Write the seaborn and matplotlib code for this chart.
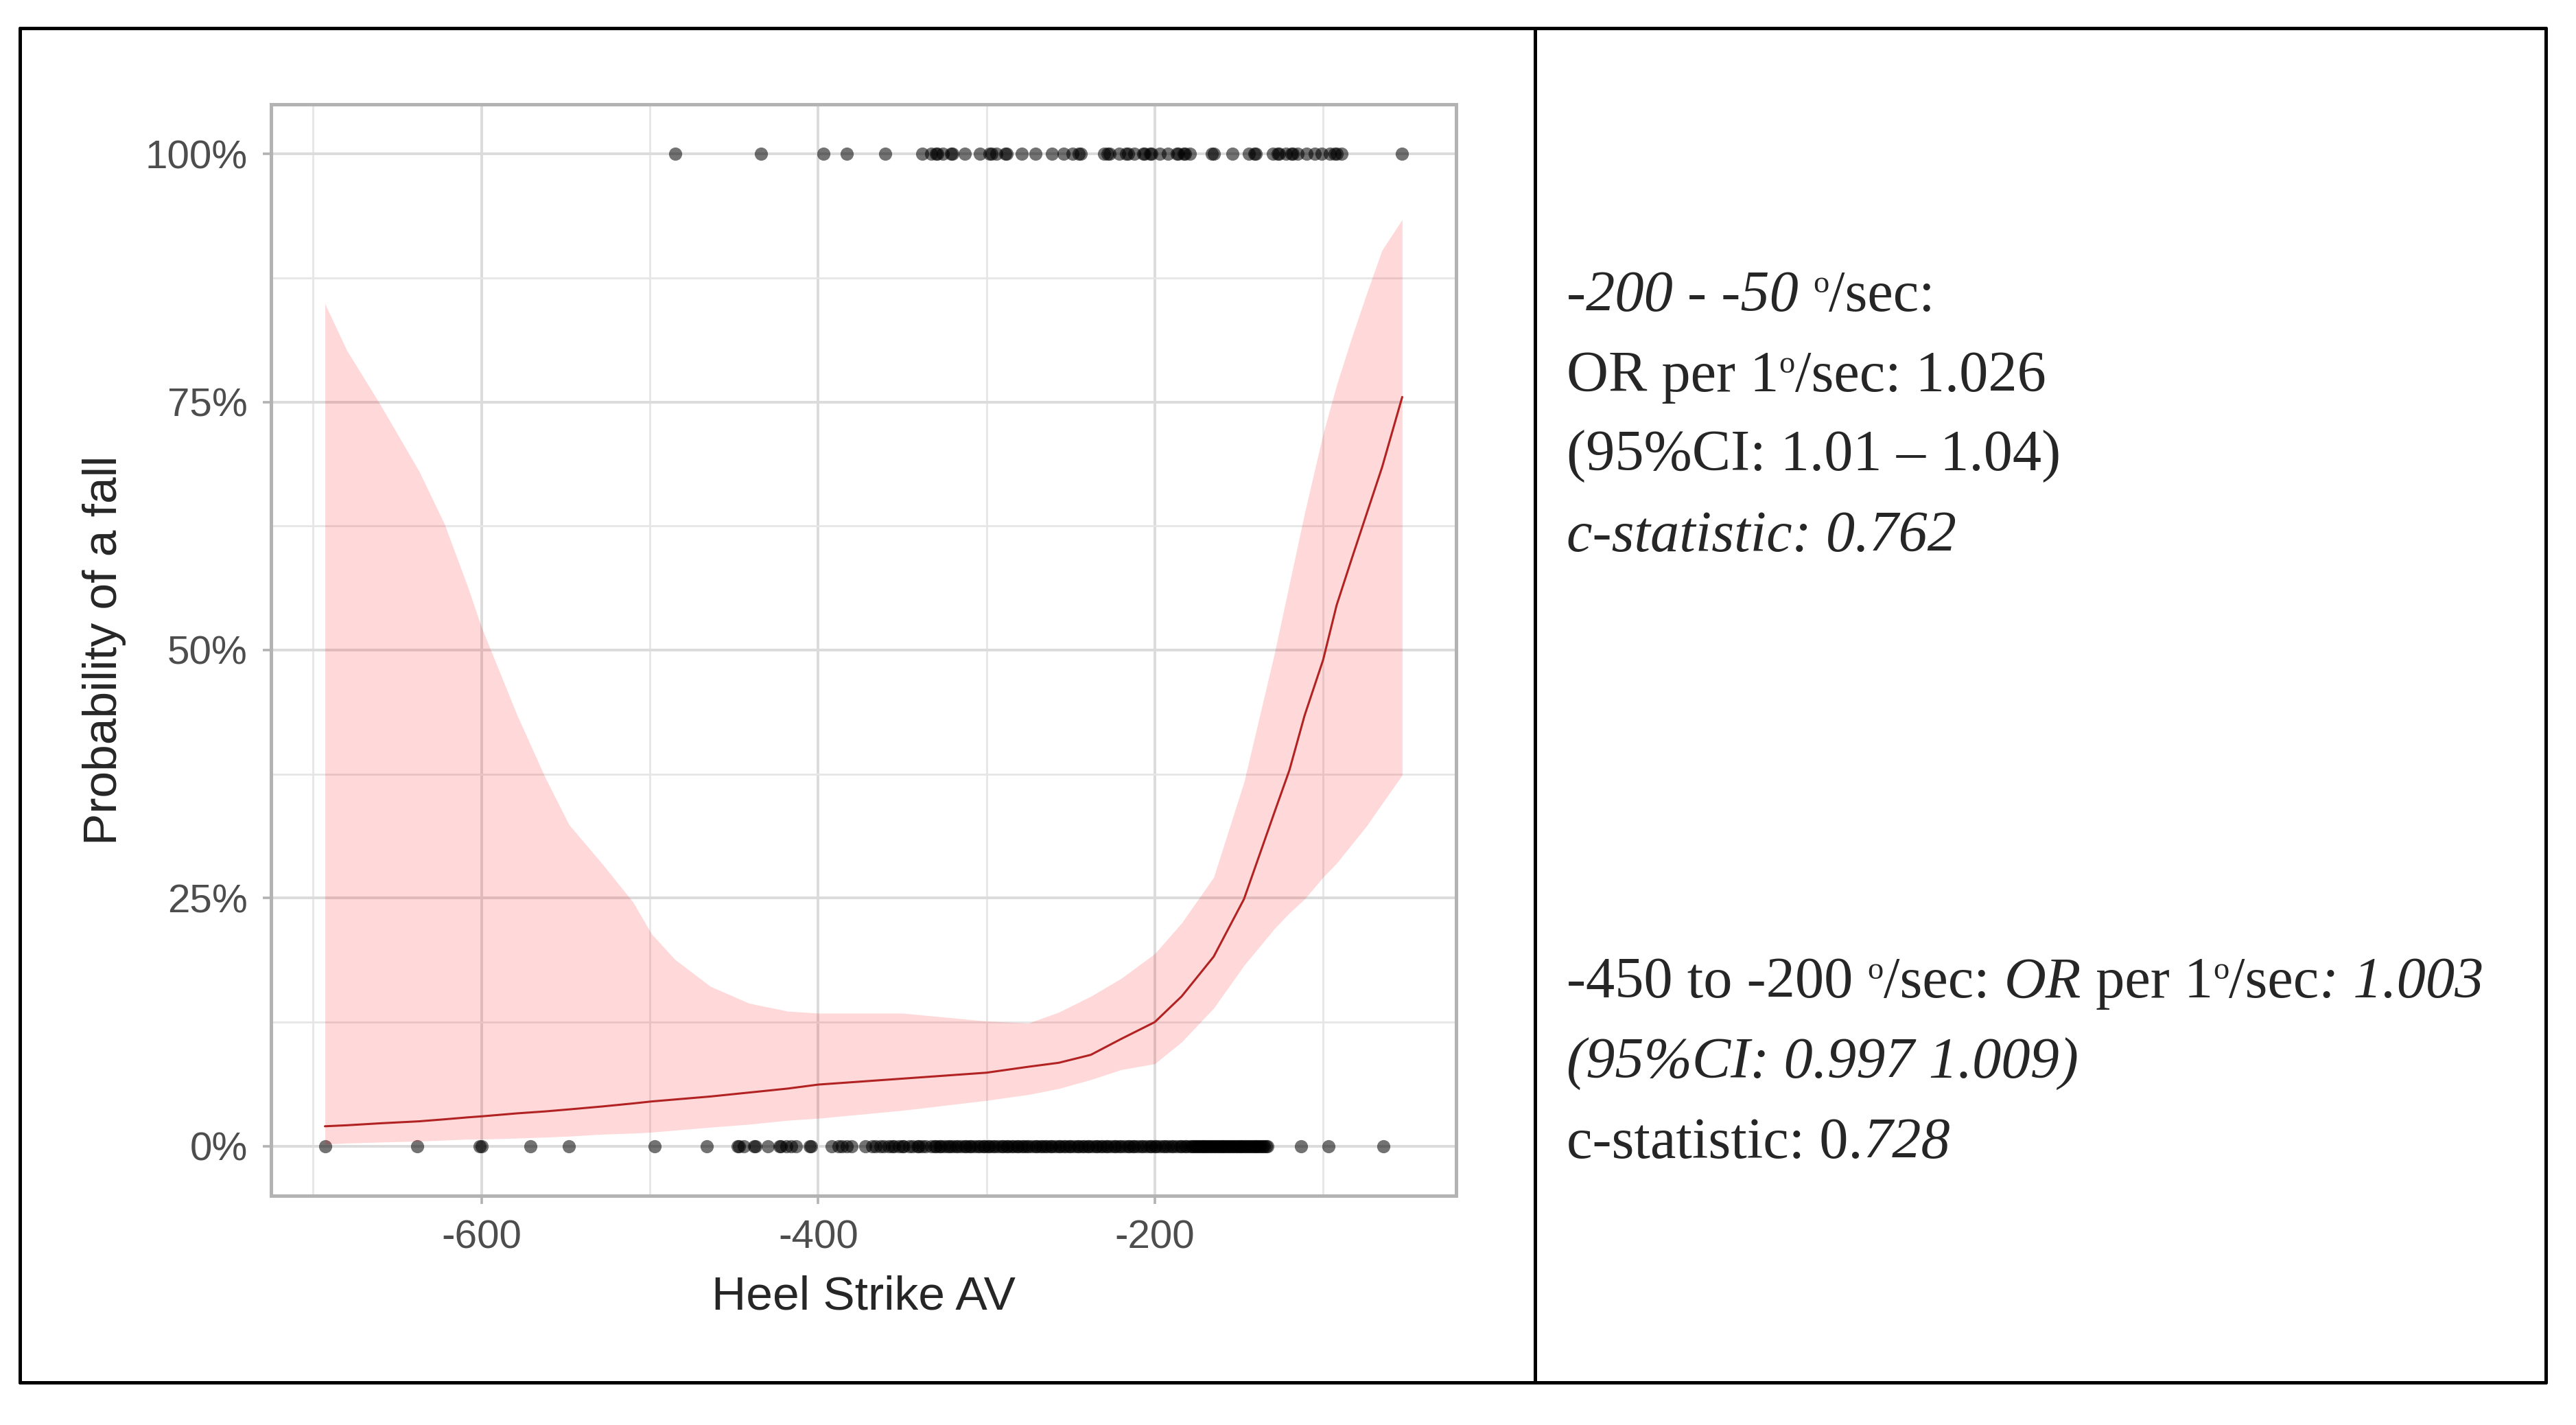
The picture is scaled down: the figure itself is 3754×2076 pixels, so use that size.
import numpy as np
import pandas as pd
import matplotlib
matplotlib.use("Agg")
import matplotlib.pyplot as plt
import seaborn as sns
from matplotlib.lines import Line2D
from matplotlib.ticker import PercentFormatter

# heel strike angular velocity of fallers (y = 1)
fallers_x = [-485, -434, -397, -383, -360, -338, -333, -330, -329, -326, -321, -320,
             -313, -304, -298, -297, -294, -289, -288, -279, -271, -261, -254, -249,
             -245, -244, -230, -228, -227, -221, -217, -216, -212, -207, -206, -203,
             -202, -197, -192, -187, -186, -183, -182, -179, -166, -165, -154, -144,
             -141, -140, -130, -127, -126, -122, -119, -118, -115, -110, -105, -101,
             -96, -93, -92, -89, -53]

# non-fallers (y = 0)
nonfallers_x = [-693, -638, -601, -600, -571, -548, -497, -466, -448, -447, -444, -438,
                -437, -430, -423, -422, -419, -416, -413, -405, -404, -392, -388, -386,
                -383, -380, -372, -368, -366, -363, -361, -358, -356, -355, -352, -350,
                -349, -346, -344, -341, -340, -338, -336, -333, -331, -330, -328, -327,
                -325, -323, -322, -320, -318, -317, -315, -313, -312, -310, -309, -307,
                -305, -304, -302, -301, -299, -298, -296, -295, -293, -291, -290, -288,
                -287, -285, -284, -282, -281, -279, -278, -276, -275, -273, -271, -270,
                -268, -267, -265, -264, -262, -261, -259, -257, -256, -254, -253, -251,
                -250, -248, -246, -245, -243, -242, -240, -239, -237, -235, -234, -232,
                -231, -229, -228, -226, -224, -223, -221, -220, -218, -216, -215, -213,
                -212, -210, -208, -207, -205, -203, -202, -200, -199, -197, -195, -194,
                -192, -190, -189, -187, -185, -184, -182, -181, -179, -178, -177, -176,
                -175, -174, -173, -172, -171, -170, -169, -168, -167, -166, -165, -164,
                -163, -162, -161, -160, -159, -158, -157, -156, -155, -154, -153, -152,
                -151, -150, -149, -148, -147, -146, -145, -144, -143, -142, -141, -140,
                -139, -138, -137, -136, -135, -134, -133, -113, -97, -64]

# fitted probability with 95% CI
fit_x = [-693, -680, -660, -637, -622, -608, -600, -579, -562, -548, -528, -510,
         -499, -485, -464, -441, -418, -400, -350, -300, -275, -257, -238, -220,
         -200, -184, -165, -147, -129, -120, -111, -100, -92, -83, -74, -65, -53]
fit_p = [0.020, 0.021, 0.023, 0.025, 0.027, 0.029, 0.030, 0.033, 0.035, 0.037, 0.040,
         0.043, 0.045, 0.047, 0.050, 0.054, 0.058, 0.062, 0.068, 0.074, 0.080, 0.084,
         0.092, 0.108, 0.125, 0.151, 0.191, 0.249, 0.336, 0.379, 0.434, 0.490, 0.545,
         0.592, 0.638, 0.684, 0.755]
fit_hi = [0.849, 0.802, 0.747, 0.680, 0.627, 0.563, 0.523, 0.435, 0.371, 0.324, 0.284,
          0.246, 0.214, 0.188, 0.161, 0.144, 0.136, 0.134, 0.134, 0.126, 0.124, 0.135,
          0.151, 0.169, 0.194, 0.225, 0.271, 0.367, 0.496, 0.567, 0.638, 0.718, 0.767,
          0.815, 0.860, 0.903, 0.934]
fit_lo = [0.002, 0.003, 0.004, 0.005, 0.006, 0.007, 0.007, 0.008, 0.009, 0.010, 0.012,
          0.013, 0.014, 0.016, 0.019, 0.022, 0.026, 0.028, 0.036, 0.046, 0.052, 0.058,
          0.067, 0.077, 0.083, 0.105, 0.139, 0.182, 0.219, 0.235, 0.249, 0.271, 0.285,
          0.304, 0.323, 0.345, 0.374]

x_ticks = [-600, -400, -200]
y_ticks = [0, 0.25, 0.5, 0.75, 1.0]

sns.set_theme(style="whitegrid")
plt.rcParams['font.family'] = ['Liberation Sans', 'DejaVu Sans']
plt.rcParams['axes.unicode_minus'] = False

fig = plt.figure(figsize=(18.775, 10.38), dpi=200)
ax = fig.add_axes([0.1052, 0.1609, 0.4599, 0.7659])

pts = pd.DataFrame({
    'x': fallers_x + nonfallers_x,
    'y': [1] * len(fallers_x) + [0] * len(nonfallers_x),
})
sns.scatterplot(data=pts, x='x', y='y', ax=ax, color='black', alpha=0.55,
                s=48, linewidth=0, zorder=3)
ax.fill_between(fit_x, fit_lo, fit_hi, color='red', alpha=0.15, lw=0, zorder=4)
sns.lineplot(x=fit_x, y=fit_p, ax=ax, color='#B22222', lw=1.1, zorder=5)

xmin, xmax = min(nonfallers_x + fallers_x), max(nonfallers_x + fallers_x)
pad = 0.05 * (xmax - xmin)
ax.set_xlim(xmin - pad, xmax + pad)
ax.set_ylim(-0.05, 1.05)
ax.set_xticks(x_ticks)
ax.set_xticks([-700, -500, -300, -100], minor=True)
ax.set_yticks(y_ticks)
ax.set_yticks([0.125, 0.375, 0.625, 0.875], minor=True)
ax.yaxis.set_major_formatter(PercentFormatter(1.0, decimals=0))

ax.grid(which='major', color='#DBDBDB', lw=1.4)
ax.grid(which='minor', color='#E6E6E6', lw=1.0)
ax.set_axisbelow(True)
for sp in ax.spines.values():
    sp.set_color('#B3B3B3')
    sp.set_linewidth(1.8)
ax.tick_params(which='major', length=4.3, width=1.3, color='#B3B3B3',
               labelsize=21, labelcolor='#4D4D4D', pad=8)
ax.tick_params(which='minor', length=0)
ax.tick_params(axis='x', bottom=True)
ax.tick_params(axis='y', left=True)
ax.set_xlabel('Heel Strike AV', fontsize=25, labelpad=10)
ax.set_ylabel('Probability of a fall', fontsize=25, labelpad=10)

# table frame
lc = dict(color='black', lw=1.8)
fig.add_artist(Line2D([0.0077, 0.988], [0.9803, 0.9803], **lc))
fig.add_artist(Line2D([0.0077, 0.988], [0.0299, 0.0299], **lc))
fig.add_artist(Line2D([0.0077, 0.0077], [0.0299, 0.9803], **lc))
fig.add_artist(Line2D([0.988, 0.988], [0.0299, 0.9803], **lc))
fig.add_artist(Line2D([0.5957, 0.5957], [0.0299, 0.9803], **lc))

# right-hand text, drawn run by run
renderer = fig.canvas.get_renderer()
FS = 30.4


def draw_runs(x, y, runs):
    for txt, style in runs:
        if style == 'sup':
            t = fig.text(x, y + 0.013, txt, fontsize=FS * 0.55,
                         family='Liberation Serif', va='baseline')
        else:
            t = fig.text(x, y, txt, fontsize=FS, style=style,
                         family='Liberation Serif', va='baseline')
        bb = t.get_window_extent(renderer)
        x += bb.width / fig.bbox.width


tx = 0.608
draw_runs(tx, 0.782, [('-200 - -50', 'italic'), (' ', 'normal'), ('o', 'sup'),
                      ('/sec:', 'normal')])
draw_runs(tx, 0.7254, [('OR per 1', 'normal'), ('o', 'sup'), ('/sec: 1.026', 'normal')])
draw_runs(tx, 0.670, [('(95%CI: 1.01 \u2013 1.04)', 'normal')])
draw_runs(tx, 0.6132, [('c-statistic: 0.762', 'italic')])
draw_runs(tx, 0.300, [('-450 to -200 ', 'normal'), ('o', 'sup'), ('/sec: ', 'normal'),
                      ('OR', 'italic'), (' per 1', 'normal'), ('o', 'sup'),
                      ('/sec', 'normal'), (': 1.003', 'italic')])
draw_runs(tx, 0.2437, [('(95%CI: 0.997 1.009)', 'italic')])
draw_runs(tx, 0.1874, [('c-statistic: 0.', 'normal'), ('728', 'italic')])

fig.savefig('out.png', dpi=200, facecolor='white')
